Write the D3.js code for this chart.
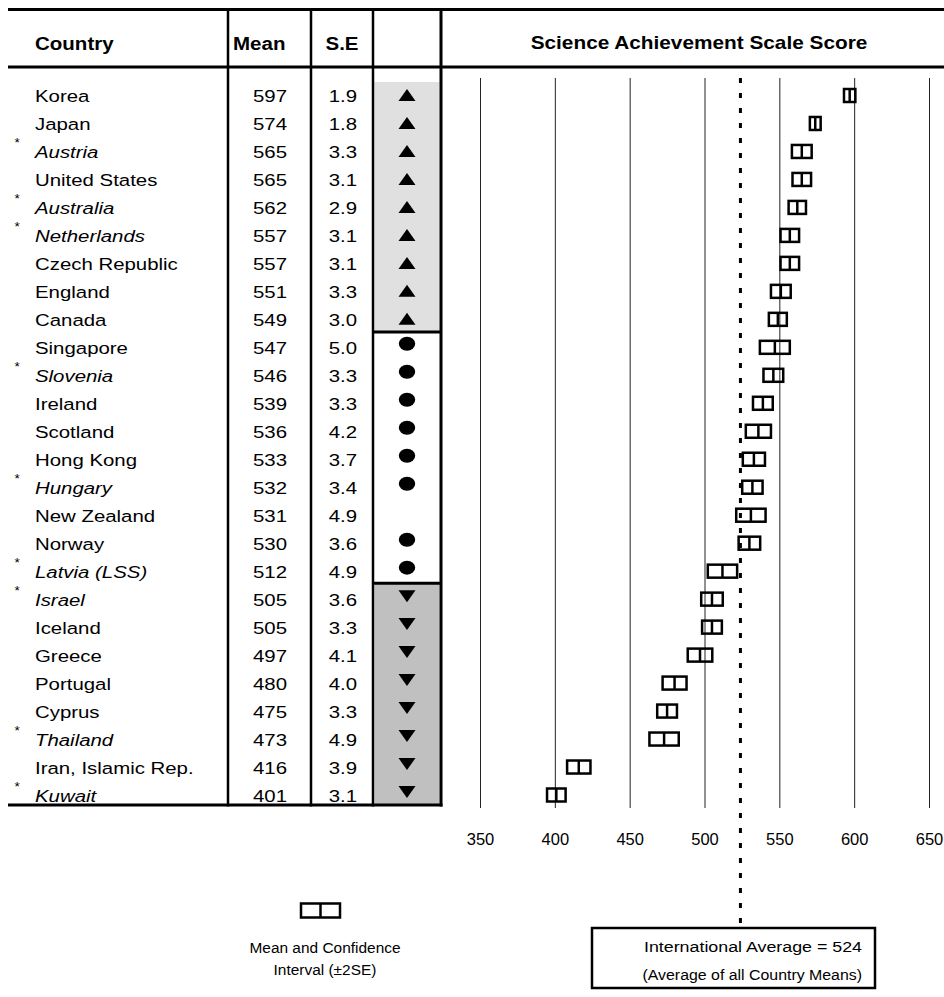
<!DOCTYPE html>
<html>
<head>
<meta charset="utf-8">
<script src="https://cdn.jsdelivr.net/npm/d3@7"></script>
<style>
  html, body { margin: 0; padding: 0; background: #fff; }
  svg { display: block; }
  text { font-family: "Liberation Sans", Arial, Helvetica, sans-serif; fill: #000; }
</style>
</head>
<body>
<svg id="chart" width="944" height="997"></svg>
<script>
// ---------------- data ----------------
const countries = ["Korea","Japan","Austria","United States","Australia","Netherlands","Czech Republic","England","Canada",
  "Singapore","Slovenia","Ireland","Scotland","Hong Kong","Hungary","New Zealand","Norway","Latvia (LSS)",
  "Israel","Iceland","Greece","Portugal","Cyprus","Thailand","Iran, Islamic Rep.","Kuwait"];
const means = [597,574,565,565,562,557,557,551,549,547,546,539,536,533,532,531,530,512,505,505,497,480,475,473,416,401];
const stdErrors = [1.9,1.8,3.3,3.1,2.9,3.1,3.1,3.3,3.0,5.0,3.3,3.3,4.2,3.7,3.4,4.9,3.6,4.9,3.6,3.3,4.1,4.0,3.3,4.9,3.9,3.1];
// comparison symbol: up = significantly higher, same = no difference, down = significantly lower, "" = none shown
const comparison = ["up","up","up","up","up","up","up","up","up",
  "same","same","same","same","same","same","","same","same",
  "down","down","down","down","down","down","down","down"];
// countries marked with an asterisk (shown in italics)
const flagged = [false,false,true,false,true,true,false,false,false,
  false,true,false,false,false,true,false,false,true,
  true,false,false,false,false,true,false,true];
const tickValues = [350,400,450,500,550,600,650];
const internationalAverage = 524;
const headers = {country: "Country", mean: "Mean", se: "S.E", chart: "Science Achievement Scale Score"};
const legendLabel = ["Mean and Confidence", "Interval (±2SE)"];
const averageLabel = ["International Average = 524", "(Average of all Country Means)"];

// ---------------- helpers ----------------
const svg = d3.select("#chart");
function txt(parent, x, y, str, o = {}) {
  const sx = o.sx || 1;
  const t = parent.append("text")
    .attr("x", x / sx).attr("y", y)
    .attr("transform", sx !== 1 ? `scale(${sx},1)` : null)
    .attr("font-size", o.size || 17)
    .attr("font-weight", o.weight || null)
    .attr("font-style", o.style || null)
    .attr("text-anchor", o.anchor || "start")
    .text(str);
  return t;
}

// ---------------- scales ----------------
const x = d3.scaleLinear().domain([350, 650]).range([480, 929]);
const y = d3.scalePoint().domain(countries).range([96.5, 796]);
const rowY = i => y(countries[i]);

const colX = {left: 8, c1: 228, c2: 311, c3: 373, c4: 441, right: 944};
const tableTop = 9.5, headerBottom = 67;
const gridTop = 78, gridBottom = 808;

// group boundaries (derived from row positions)
const groupTop = rowY(0) - 14.5;
const b1 = rowY(8) + 11.7;   // between last "up" and first "same"
const b2 = rowY(17) + 11;    // between last "same" and first "down"
const tableBottom = rowY(countries.length - 1) + 9;

// ---------------- symbol column shading ----------------
svg.append("rect").attr("x", colX.c3 + 1.5).attr("y", groupTop)
  .attr("width", colX.c4 - colX.c3 - 3).attr("height", b1 - groupTop).attr("fill", "#e0e0e0");
svg.append("rect").attr("x", colX.c3 + 1.5).attr("y", b2)
  .attr("width", colX.c4 - colX.c3 - 3).attr("height", tableBottom - b2).attr("fill", "#c0c0c0");
[b1, b2].forEach(b => svg.append("line").attr("x1", colX.c3).attr("x2", colX.c4)
  .attr("y1", b).attr("y2", b).attr("stroke", "#000").attr("stroke-width", 3));

// ---------------- table lines ----------------
svg.append("line").attr("x1", colX.left).attr("x2", colX.right).attr("y1", tableTop).attr("y2", tableTop)
  .attr("stroke", "#000").attr("stroke-width", 3);
svg.append("line").attr("x1", colX.left).attr("x2", colX.right).attr("y1", headerBottom).attr("y2", headerBottom)
  .attr("stroke", "#000").attr("stroke-width", 3);
svg.append("line").attr("x1", colX.left).attr("x2", colX.c4 + 1.5).attr("y1", tableBottom).attr("y2", tableBottom)
  .attr("stroke", "#000").attr("stroke-width", 3);
[colX.c1, colX.c2, colX.c3].forEach(cx => svg.append("line").attr("x1", cx).attr("x2", cx)
  .attr("y1", tableTop).attr("y2", tableBottom + 1.5).attr("stroke", "#000").attr("stroke-width", 2.5));
svg.append("line").attr("x1", colX.c4).attr("x2", colX.c4)
  .attr("y1", tableTop).attr("y2", tableBottom + 1.5).attr("stroke", "#000").attr("stroke-width", 3);

// ---------------- headers ----------------
txt(svg, 35, 50, headers.country, {size: 19, weight: "bold", sx: 1.08});
txt(svg, 233, 50, headers.mean, {size: 19, weight: "bold", sx: 1.08});
txt(svg, 342, 50, headers.se, {size: 19, weight: "bold", sx: 1.08, anchor: "middle"});
txt(svg, 699, 49, headers.chart, {size: 19, weight: "bold", sx: 1.095, anchor: "middle"});

// ---------------- rows ----------------
const rows = svg.append("g");
countries.forEach((c, i) => {
  const yy = rowY(i);
  txt(rows, 35, yy + 6, c, {sx: 1.2, style: flagged[i] ? "italic" : null});
  if (flagged[i]) txt(rows, 14.5, yy - 5, "*", {size: 13.5});
  txt(rows, 287, yy + 6, d3.format("d")(means[i]), {sx: 1.2, anchor: "end"});
  txt(rows, 357, yy + 6, d3.format(".1f")(stdErrors[i]), {sx: 1.2, anchor: "end"});
});

// comparison symbols
const symX = (colX.c3 + colX.c4) / 2;
const symG = svg.append("g");
comparison.forEach((s, i) => {
  const yy = rowY(i);
  if (s === "up") {
    const cy = yy - 1.5;
    symG.append("path").attr("d", `M${symX - 8.5},${cy + 6}L${symX + 8.5},${cy + 6}L${symX},${cy - 6}Z`).attr("fill", "#000");
  } else if (s === "down") {
    const cy = yy - 4;
    symG.append("path").attr("d", `M${symX - 8.5},${cy - 6}L${symX + 8.5},${cy - 6}L${symX},${cy + 6}Z`).attr("fill", "#000");
  } else if (s === "same") {
    symG.append("ellipse").attr("cx", symX).attr("cy", yy - 4.5).attr("rx", 8.2).attr("ry", 7).attr("fill", "#000");
  }
});

// ---------------- chart: gridlines + axis ----------------
const axis = d3.axisBottom(x).tickValues(tickValues).tickSizeInner(-(gridBottom - gridTop)).tickSizeOuter(0).tickPadding(25);
const ax = svg.append("g").attr("transform", `translate(0,${gridBottom})`).call(axis);
ax.select(".domain").remove();
ax.selectAll(".tick line").attr("stroke", "#222").attr("stroke-width", 1);
ax.selectAll(".tick text").attr("font-size", 16.5).attr("font-family", '"Liberation Sans", Arial, sans-serif').attr("fill", "#000");

// ---------------- confidence interval boxes ----------------
const boxH = 13;
const ci = svg.append("g").attr("fill", "none").attr("stroke", "#000").attr("stroke-width", 2.5);
countries.forEach((c, i) => {
  const cy = rowY(i) - 1;
  const lo = x(means[i] - 2 * stdErrors[i]), hi = x(means[i] + 2 * stdErrors[i]), m = x(means[i]);
  ci.append("rect").attr("x", lo).attr("y", cy - boxH / 2).attr("width", hi - lo).attr("height", boxH);
  ci.append("line").attr("x1", m).attr("x2", m).attr("y1", cy - boxH / 2).attr("y2", cy + boxH / 2);
});

// ---------------- international average ----------------
const boxTop = 928, boxBottom = 988, boxLeft = 592, boxRight = 875;
svg.append("line").attr("x1", x(internationalAverage)).attr("x2", x(internationalAverage))
  .attr("y1", gridTop).attr("y2", boxTop)
  .attr("stroke", "#000").attr("stroke-width", 3).attr("stroke-dasharray", "5,10");
svg.append("rect").attr("x", boxLeft).attr("y", boxTop).attr("width", boxRight - boxLeft).attr("height", boxBottom - boxTop)
  .attr("fill", "#fff").attr("stroke", "#000").attr("stroke-width", 2.5);
txt(svg, 862, 952, averageLabel[0], {size: 15.5, sx: 1.15, anchor: "end"});
txt(svg, 862, 980, averageLabel[1], {size: 15, sx: 1.06, anchor: "end"});

// ---------------- legend ----------------
const lg = svg.append("g").attr("fill", "none").attr("stroke", "#000").attr("stroke-width", 2.5);
lg.append("rect").attr("x", 301).attr("y", 903.5).attr("width", 39).attr("height", 14);
lg.append("line").attr("x1", 320.5).attr("x2", 320.5).attr("y1", 903.5).attr("y2", 917.5);
txt(svg, 325, 953, legendLabel[0], {size: 15, sx: 1.03, anchor: "middle"});
txt(svg, 325, 975, legendLabel[1], {size: 15, sx: 1.03, anchor: "middle"});
</script>
</body>
</html>
